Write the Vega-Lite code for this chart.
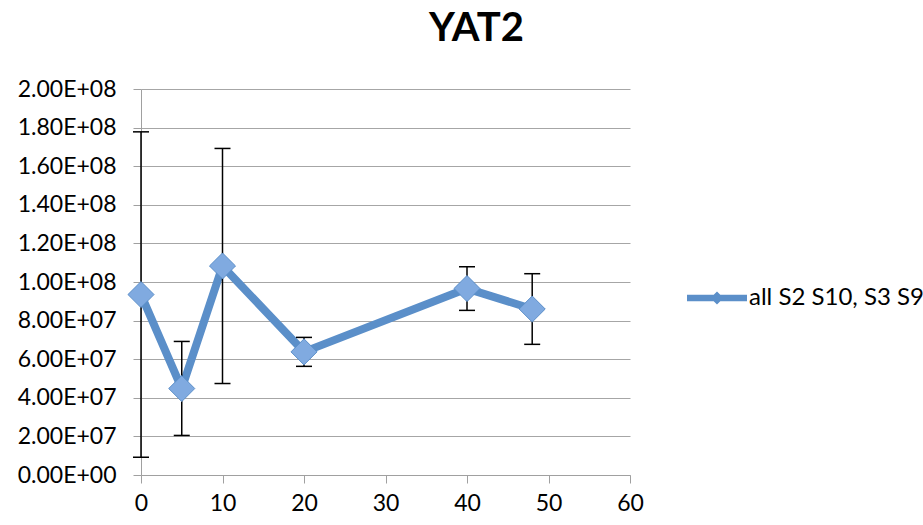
{
  "$schema": "https://vega.github.io/schema/vega-lite/v6.json",
  "width": 489,
  "height": 386,
  "autosize": {"type": "none"},
  "padding": {"left": 141, "top": 89, "right": 293, "bottom": 50},
  "background": "white",
  "config": {"view": {"stroke": null}},
  "title": {
    "text": "YAT2",
    "font": "Lato",
    "fontSize": 40,
    "fontWeight": "bold",
    "color": "black",
    "anchor": "middle",
    "dx": 91,
    "offset": 40,
    "dy": 11
  },
  "data": {
    "values": [
      {"time": 0, "value": 93500000, "lo": 9200000, "hi": 177800000, "series": "all S2 S10, S3 S9"},
      {"time": 5, "value": 44800000, "lo": 20500000, "hi": 69200000, "series": "all S2 S10, S3 S9"},
      {"time": 10, "value": 108300000, "lo": 47400000, "hi": 169200000, "series": "all S2 S10, S3 S9"},
      {"time": 20, "value": 63800000, "lo": 56300000, "hi": 71300000, "series": "all S2 S10, S3 S9"},
      {"time": 40, "value": 96600000, "lo": 85300000, "hi": 107900000, "series": "all S2 S10, S3 S9"},
      {"time": 48, "value": 86000000, "lo": 67700000, "hi": 104300000, "series": "all S2 S10, S3 S9"}
    ]
  },
  "encoding": {
    "x": {
      "field": "time",
      "type": "quantitative",
      "scale": {"domain": [0, 60], "nice": false, "zero": false},
      "axis": {
        "title": null,
        "values": [0, 10, 20, 30, 40, 50, 60],
        "grid": false,
        "domainColor": "#a0a0a0",
        "tickColor": "#a0a0a0",
        "tickSize": 8,
        "labelFont": "Lato",
        "labelFontSize": 23,
        "labelColor": "black",
        "labelPadding": 9,
        "labelFlush": false,
        "labelOverlap": false
      }
    }
  },
  "layer": [
    {
      "mark": {"type": "line", "strokeWidth": 8, "strokeCap": "round", "strokeJoin": "round"},
      "encoding": {
        "y": {
          "field": "value",
          "type": "quantitative",
          "scale": {"domain": [0, 200000000], "nice": false},
          "axis": {
            "title": null,
            "values": [0, 20000000, 40000000, 60000000, 80000000, 100000000, 120000000, 140000000, 160000000, 180000000, 200000000],
            "labelExpr": "replace(upper(format(datum.value, '.2e')), regexp('E\\\\+(\\\\d)$'), 'E+0$1')",
            "grid": true,
            "gridColor": "#a6a6a6",
            "gridWidth": 1,
            "domainColor": "#a0a0a0",
            "tickColor": "#a0a0a0",
            "tickSize": 8,
            "labelFont": "Lato",
            "labelFontSize": 23,
            "labelColor": "black",
            "labelPadding": 17,
            "labelFlush": false,
            "labelOverlap": false
          }
        },
        "color": {
          "field": "series",
          "type": "nominal",
          "scale": {"range": ["#5B8FC9"]},
          "legend": {
            "title": null,
            "orient": "none",
            "legendX": 546,
            "legendY": 179,
            "symbolType": "M-1,-0.11L1,-0.11L1,0.11L-1,0.11Z M-0.22,0L0,-0.22L0.22,0L0,0.22Z",
            "symbolSize": 3600,
            "symbolFillColor": "#5B8FC9",
            "symbolStrokeWidth": 0,
            "labelFont": "Lato",
            "labelFontSize": 24,
            "labelColor": "black",
            "labelOffset": 2,
            "labelLimit": 400
          }
        }
      }
    },
    {
      "mark": {"type": "rule", "color": "black", "strokeWidth": 1.5},
      "encoding": {
        "y": {
          "field": "lo",
          "type": "quantitative",
          "axis": {
            "title": null,
            "values": [0, 20000000, 40000000, 60000000, 80000000, 100000000, 120000000, 140000000, 160000000, 180000000, 200000000],
            "labelExpr": "replace(upper(format(datum.value, '.2e')), regexp('E\\\\+(\\\\d)$'), 'E+0$1')",
            "grid": true,
            "gridColor": "#a6a6a6",
            "gridWidth": 1,
            "domainColor": "#a0a0a0",
            "tickColor": "#a0a0a0",
            "tickSize": 8,
            "labelFont": "Lato",
            "labelFontSize": 23,
            "labelColor": "black",
            "labelPadding": 17,
            "labelFlush": false,
            "labelOverlap": false
          }
        },
        "y2": {"field": "hi"}
      }
    },
    {
      "mark": {"type": "tick", "orient": "horizontal", "color": "black", "size": 16, "thickness": 1.5, "opacity": 1},
      "encoding": {
        "y": {
          "field": "lo",
          "type": "quantitative",
          "axis": {
            "title": null,
            "values": [0, 20000000, 40000000, 60000000, 80000000, 100000000, 120000000, 140000000, 160000000, 180000000, 200000000],
            "labelExpr": "replace(upper(format(datum.value, '.2e')), regexp('E\\\\+(\\\\d)$'), 'E+0$1')",
            "grid": true,
            "gridColor": "#a6a6a6",
            "gridWidth": 1,
            "domainColor": "#a0a0a0",
            "tickColor": "#a0a0a0",
            "tickSize": 8,
            "labelFont": "Lato",
            "labelFontSize": 23,
            "labelColor": "black",
            "labelPadding": 17,
            "labelFlush": false,
            "labelOverlap": false
          }
        }
      }
    },
    {
      "mark": {"type": "tick", "orient": "horizontal", "color": "black", "size": 16, "thickness": 1.5, "opacity": 1},
      "encoding": {
        "y": {
          "field": "hi",
          "type": "quantitative",
          "axis": {
            "title": null,
            "values": [0, 20000000, 40000000, 60000000, 80000000, 100000000, 120000000, 140000000, 160000000, 180000000, 200000000],
            "labelExpr": "replace(upper(format(datum.value, '.2e')), regexp('E\\\\+(\\\\d)$'), 'E+0$1')",
            "grid": true,
            "gridColor": "#a6a6a6",
            "gridWidth": 1,
            "domainColor": "#a0a0a0",
            "tickColor": "#a0a0a0",
            "tickSize": 8,
            "labelFont": "Lato",
            "labelFontSize": 23,
            "labelColor": "black",
            "labelPadding": 17,
            "labelFlush": false,
            "labelOverlap": false
          }
        }
      }
    },
    {
      "mark": {"type": "point", "shape": "diamond", "size": 680, "filled": true, "fill": "#80AAE0", "stroke": "#5B8FC9", "strokeWidth": 1, "opacity": 1},
      "encoding": {
        "y": {
          "field": "value",
          "type": "quantitative",
          "axis": {
            "title": null,
            "values": [0, 20000000, 40000000, 60000000, 80000000, 100000000, 120000000, 140000000, 160000000, 180000000, 200000000],
            "labelExpr": "replace(upper(format(datum.value, '.2e')), regexp('E\\\\+(\\\\d)$'), 'E+0$1')",
            "grid": true,
            "gridColor": "#a6a6a6",
            "gridWidth": 1,
            "domainColor": "#a0a0a0",
            "tickColor": "#a0a0a0",
            "tickSize": 8,
            "labelFont": "Lato",
            "labelFontSize": 23,
            "labelColor": "black",
            "labelPadding": 17,
            "labelFlush": false,
            "labelOverlap": false
          }
        }
      }
    }
  ]
}
